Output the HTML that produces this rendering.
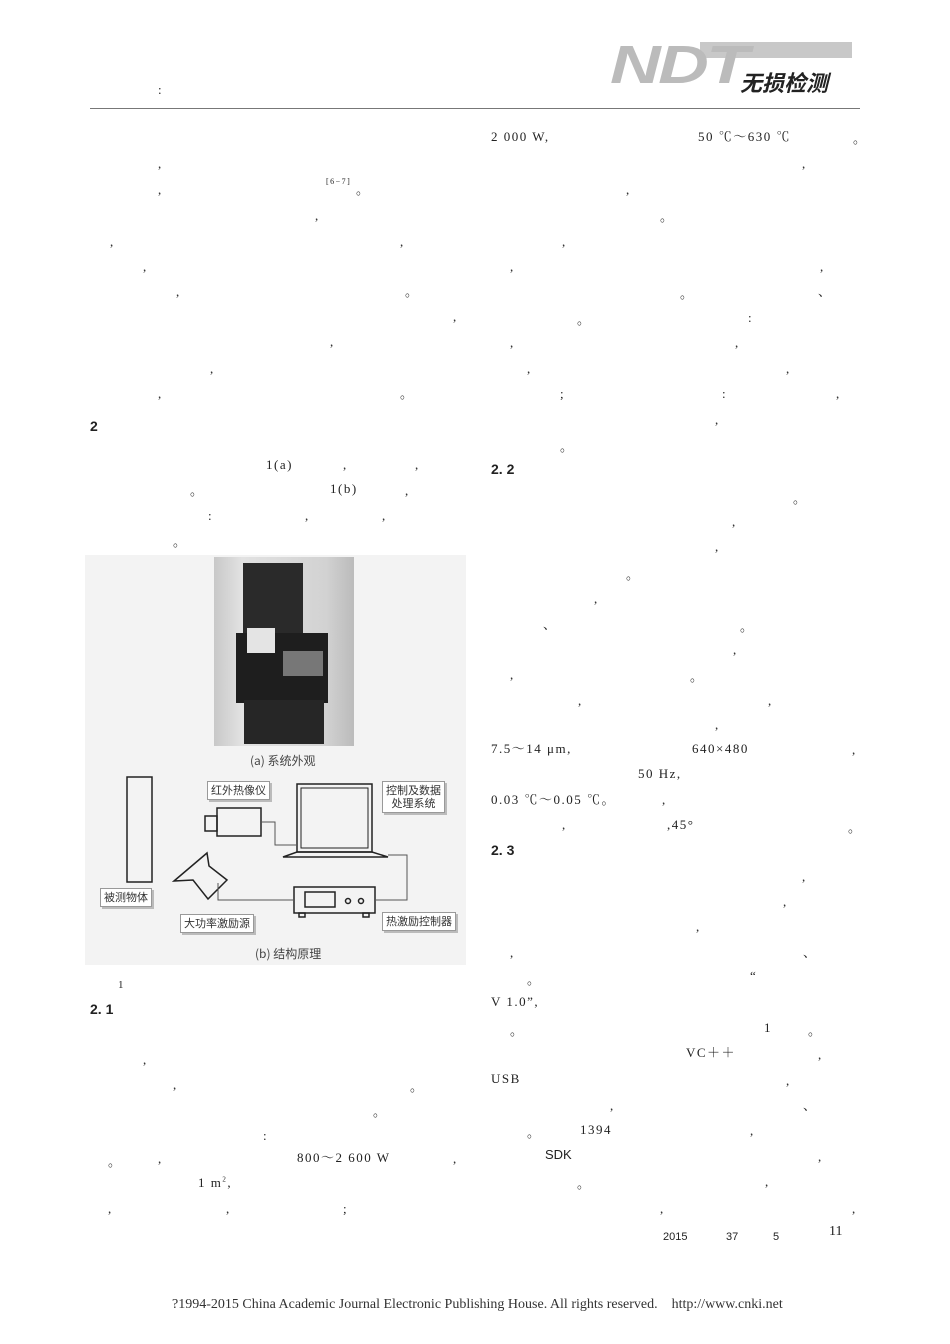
<!DOCTYPE html>
<html><head><meta charset="utf-8"><style>
body{margin:0;background:#fff}
#p{position:relative;width:950px;height:1344px;overflow:hidden;font-family:"Liberation Serif","Noto Serif CJK SC",serif;color:#222;font-size:13px}
.t{position:absolute;white-space:nowrap;line-height:1;letter-spacing:1.5px}
.b{font-weight:bold;font-family:"Liberation Sans",sans-serif;font-size:14px;letter-spacing:0}
.lb{position:absolute;background:#fff;border:1px solid #999;box-shadow:2px 2px 0 #bbb;font-family:"Noto Sans CJK SC",sans-serif;font-size:11px;line-height:13px;padding:2px 3px;color:#333;text-align:center}
</style></head><body><div id="p">
<div class="t" style="left:158px;top:83px">:</div>
<div style="position:absolute;left:90px;top:108px;width:770px;height:1px;background:#777"></div>
<div style="position:absolute;left:700px;top:42px;width:152px;height:16px;background:#c8c8c8"></div>
<div class="t" style="left:610px;top:34px;font:italic bold 54px 'Liberation Sans',sans-serif;color:#bbb;letter-spacing:-2px;transform:scaleX(1.3);transform-origin:left">NDT</div>
<div class="t" style="left:740px;top:66px;font:italic bold 22px 'Noto Sans CJK SC',sans-serif;color:#222;letter-spacing:0">无损检测</div>

<div class="t" style="left:158px;top:157px">,</div>
<div class="t" style="left:158px;top:183px">,</div>
<div class="t" style="left:326px;top:178px;font-size:8px">[6−7]</div><div class="t" style="left:356px;top:183px">。</div>
<div class="t" style="left:315px;top:209px">,</div>
<div class="t" style="left:110px;top:235px">,</div><div class="t" style="left:400px;top:235px">,</div>
<div class="t" style="left:143px;top:260px">,</div>
<div class="t" style="left:176px;top:285px">,</div><div class="t" style="left:405px;top:285px">。</div>
<div class="t" style="left:453px;top:310px">,</div>
<div class="t" style="left:330px;top:335px">,</div>
<div class="t" style="left:210px;top:362px">,</div>
<div class="t" style="left:158px;top:387px">,</div><div class="t" style="left:400px;top:387px">。</div>
<div class="t b" style="left:90px;top:419px">2</div>
<div class="t" style="left:266px;top:458px">1(a)</div><div class="t" style="left:343px;top:458px">,</div><div class="t" style="left:415px;top:458px">,</div>
<div class="t" style="left:190px;top:484px">。</div><div class="t" style="left:330px;top:482px">1(b)</div><div class="t" style="left:405px;top:484px">,</div>
<div class="t" style="left:208px;top:509px">:</div><div class="t" style="left:305px;top:509px">,</div><div class="t" style="left:382px;top:509px">,</div>
<div class="t" style="left:173px;top:535px">。</div>

<div style="position:absolute;left:85px;top:555px;width:381px;height:410px;background:#f3f3f3"></div>
<div style="position:absolute;left:214px;top:557px;width:140px;height:189px;background:linear-gradient(90deg,#c8c8c8,#e2e2e2 20%,#d2d2d2 80%,#bbb)"></div>
<div style="position:absolute;left:243px;top:563px;width:60px;height:70px;background:#2a2a2a"></div>
<div style="position:absolute;left:236px;top:633px;width:92px;height:70px;background:#1e1e1e"></div>
<div style="position:absolute;left:244px;top:700px;width:80px;height:44px;background:#262626"></div>
<div style="position:absolute;left:247px;top:628px;width:28px;height:25px;background:#e4e4e4"></div>
<div style="position:absolute;left:283px;top:651px;width:40px;height:25px;background:#777"></div>
<div class="t" style="left:250px;top:755px;font-family:'Noto Sans CJK SC',sans-serif;font-size:12px;color:#444;letter-spacing:0">(a) 系统外观</div>
<svg style="position:absolute;left:0;top:0" width="950" height="1344">
<g fill="none" stroke="#222" stroke-width="1.5">
<rect x="127" y="777" width="25" height="105"/>
<rect x="217" y="808" width="44" height="28"/><rect x="205" y="816" width="12" height="15"/>
<rect x="297" y="784" width="75" height="68"/><rect x="301" y="788" width="67" height="60" stroke-width="1"/>
<polygon points="297,852 372,852 388,857 283,857"/>
<rect x="294" y="887" width="81" height="26"/><rect x="305" y="892" width="30" height="15"/>
<circle cx="348" cy="901" r="2.5"/><circle cx="361" cy="901" r="2.5"/>
<rect x="299" y="913" width="6" height="4"/><rect x="363" y="913" width="6" height="4"/>
<polygon points="174,881 207,853 209,866 227,880 208,899 193,880"/>
</g>
<g fill="none" stroke="#555" stroke-width="1">
<polyline points="261,822 275,822 275,845 297,845"/>
<polyline points="388,855 407,855 407,900 375,900"/>
<polyline points="218,883 218,900 294,900"/>
</g></svg>
<div class="lb" style="left:100px;top:888px">被测物体</div>
<div class="lb" style="left:207px;top:781px">红外热像仪</div>
<div class="lb" style="left:382px;top:781px">控制及数据<br>处理系统</div>
<div class="lb" style="left:382px;top:912px">热激励控制器</div>
<div class="lb" style="left:180px;top:914px">大功率激励源</div>
<div class="t" style="left:255px;top:948px;font-family:'Noto Sans CJK SC',sans-serif;font-size:12px;color:#444;letter-spacing:0">(b) 结构原理</div>
<div class="t" style="left:118px;top:980px;font-size:11px">1</div>
<div class="t b" style="left:90px;top:1002px">2. 1</div>
<div class="t" style="left:143px;top:1053px">,</div>
<div class="t" style="left:173px;top:1078px">,</div><div class="t" style="left:410px;top:1080px">。</div>
<div class="t" style="left:373px;top:1105px">。</div>
<div class="t" style="left:263px;top:1129px">:</div>
<div class="t" style="left:108px;top:1155px">。</div><div class="t" style="left:158px;top:1152px">,</div><div class="t" style="left:297px;top:1151px">800～2 600 W</div><div class="t" style="left:453px;top:1152px">,</div>
<div class="t" style="left:198px;top:1176px">1 m<sup style="font-size:7px">2</sup>,</div>
<div class="t" style="left:108px;top:1202px">,</div><div class="t" style="left:226px;top:1202px">,</div><div class="t" style="left:343px;top:1202px">;</div>

<div class="t" style="left:491px;top:130px">2 000 W,</div><div class="t" style="left:698px;top:130px">50 ℃～630 ℃</div><div class="t" style="left:853px;top:132px">。</div>
<div class="t" style="left:802px;top:157px">,</div>
<div class="t" style="left:626px;top:183px">,</div>
<div class="t" style="left:660px;top:210px">。</div>
<div class="t" style="left:562px;top:235px">,</div>
<div class="t" style="left:510px;top:260px">,</div><div class="t" style="left:820px;top:260px">,</div>
<div class="t" style="left:680px;top:287px">。</div><div class="t" style="left:818px;top:285px">、</div>
<div class="t" style="left:577px;top:313px">。</div><div class="t" style="left:748px;top:311px">:</div>
<div class="t" style="left:510px;top:336px">,</div><div class="t" style="left:735px;top:336px">,</div>
<div class="t" style="left:527px;top:362px">,</div><div class="t" style="left:786px;top:362px">,</div>
<div class="t" style="left:560px;top:387px">;</div><div class="t" style="left:722px;top:387px">:</div><div class="t" style="left:836px;top:387px">,</div>
<div class="t" style="left:715px;top:413px">,</div>
<div class="t" style="left:560px;top:440px">。</div>
<div class="t b" style="left:491px;top:462px">2. 2</div>
<div class="t" style="left:793px;top:492px">。</div>
<div class="t" style="left:732px;top:515px">,</div>
<div class="t" style="left:715px;top:540px">,</div>
<div class="t" style="left:626px;top:568px">。</div>
<div class="t" style="left:594px;top:592px">,</div>
<div class="t" style="left:543px;top:618px">、</div><div class="t" style="left:740px;top:620px">。</div>
<div class="t" style="left:733px;top:643px">,</div>
<div class="t" style="left:510px;top:668px">,</div><div class="t" style="left:690px;top:670px">。</div>
<div class="t" style="left:578px;top:694px">,</div><div class="t" style="left:768px;top:694px">,</div>
<div class="t" style="left:715px;top:718px">,</div>
<div class="t" style="left:491px;top:742px">7.5～14 μm,</div><div class="t" style="left:692px;top:742px">640×480</div><div class="t" style="left:852px;top:743px">,</div>
<div class="t" style="left:638px;top:767px">50 Hz,</div>
<div class="t" style="left:491px;top:793px">0.03 ℃～0.05 ℃。</div><div class="t" style="left:662px;top:793px">,</div>
<div class="t" style="left:562px;top:818px">,</div><div class="t" style="left:667px;top:818px">,45°</div><div class="t" style="left:848px;top:821px">。</div>
<div class="t b" style="left:491px;top:843px">2. 3</div>
<div class="t" style="left:802px;top:870px">,</div>
<div class="t" style="left:783px;top:895px">,</div>
<div class="t" style="left:696px;top:920px">,</div>
<div class="t" style="left:510px;top:946px">,</div><div class="t" style="left:803px;top:946px">、</div>
<div class="t" style="left:527px;top:973px">。</div><div class="t" style="left:750px;top:969px">“</div>
<div class="t" style="left:491px;top:995px">V 1.0”,</div>
<div class="t" style="left:510px;top:1024px">。</div><div class="t" style="left:764px;top:1021px">1</div><div class="t" style="left:808px;top:1024px">。</div>
<div class="t" style="left:686px;top:1046px">VC＋＋</div><div class="t" style="left:818px;top:1048px">,</div>
<div class="t" style="left:491px;top:1072px">USB</div><div class="t" style="left:786px;top:1074px">,</div>
<div class="t" style="left:610px;top:1099px">,</div><div class="t" style="left:803px;top:1099px">、</div>
<div class="t" style="left:527px;top:1126px">。</div><div class="t" style="left:580px;top:1123px">1394</div><div class="t" style="left:750px;top:1124px">,</div>
<div class="t" style="left:545px;top:1148px;font-family:'Liberation Sans',sans-serif;letter-spacing:0">SDK</div><div class="t" style="left:818px;top:1150px">,</div>
<div class="t" style="left:577px;top:1177px">。</div><div class="t" style="left:765px;top:1175px">,</div>
<div class="t" style="left:660px;top:1202px">,</div><div class="t" style="left:852px;top:1202px">,</div>
<div class="t" style="left:663px;top:1232px;font-family:'Liberation Sans',sans-serif;font-size:11px;letter-spacing:0">2015</div>
<div class="t" style="left:726px;top:1232px;font-family:'Liberation Sans',sans-serif;font-size:11px;letter-spacing:0">37</div>
<div class="t" style="left:773px;top:1232px;font-family:'Liberation Sans',sans-serif;font-size:11px;letter-spacing:0">5</div>
<div class="t" style="left:829px;top:1225px;font-size:14px;letter-spacing:0">11</div>
<div class="t" style="left:172px;top:1298px;font-size:14px;color:#333;letter-spacing:0">?1994-2015 China Academic Journal Electronic Publishing House. All rights reserved.&nbsp;&nbsp;&nbsp;&nbsp;http://www.cnki.net</div>
</div></body></html>
